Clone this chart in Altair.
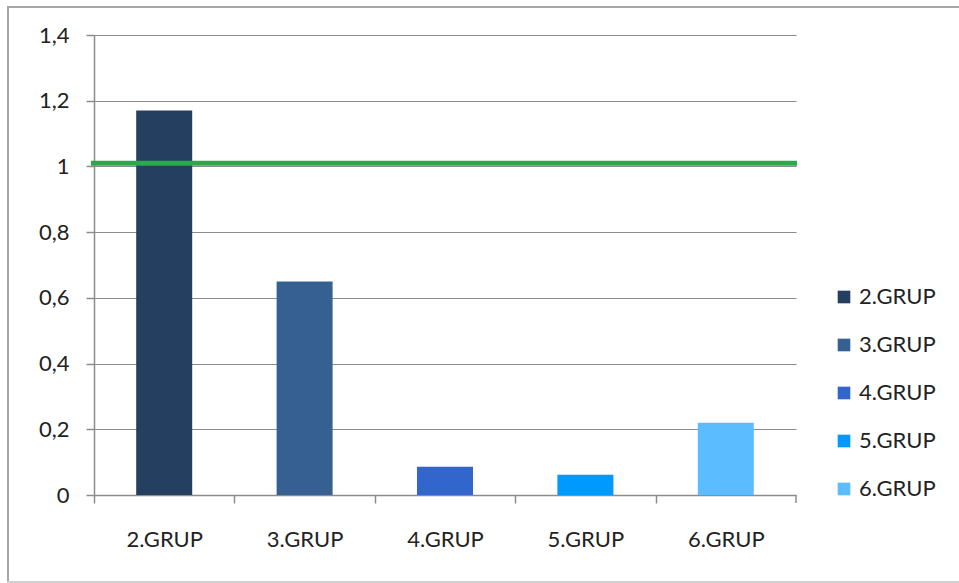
import altair as alt
import pandas as pd

# Group ratios and their bar colours
groups = ["2.GRUP", "3.GRUP", "4.GRUP", "5.GRUP", "6.GRUP"]
values = [1.17, 0.65, 0.086, 0.062, 0.22]
colors = ["#243F60", "#366092", "#3366CC", "#0099FF", "#5BBCFF"]

# Reference level drawn as a horizontal line
reference_level = [1.01]

df = pd.DataFrame({"group": groups, "value": values})
ref = pd.DataFrame({"level": reference_level})

FONT = "Lato"
FS = 22
TEXT = "#222222"
AXIS_GRAY = "#8C8C8C"
FRAME_GRAY = "#A6A6A6"
W, H = 702, 460
RIGHT_PAD = 163
STEP = W / len(groups)

bars = alt.Chart(df).mark_bar(size=56).encode(
    x=alt.X(
        "group:N",
        sort=groups,
        scale=alt.Scale(domain=groups, paddingInner=0, paddingOuter=0),
        title=None,
        axis=alt.Axis(
            tickOffset=-STEP / 2,
            labelOffset=STEP / 2,
            labelAngle=0,
            labelPadding=26,
            labelFontSize=FS,
            labelFont=FONT,
            labelColor=TEXT,
            ticks=True,
            tickSize=8,
            tickColor=AXIS_GRAY,
            domainColor=AXIS_GRAY,
            domainWidth=1.5,
            tickWidth=1.5,
            grid=False,
        ),
    ),
    y=alt.Y(
        "value:Q",
        title=None,
        scale=alt.Scale(domain=[0, 1.4], nice=False),
        axis=alt.Axis(
            values=[0, 0.2, 0.4, 0.6, 0.8, 1.0, 1.2, 1.4],
            labelExpr="replace(format(datum.value, '.1~f'), '.', ',')",
            labelFontSize=FS,
            labelFont=FONT,
            labelColor=TEXT,
            labelPadding=17,
            tickSize=8,
            tickColor=AXIS_GRAY,
            tickWidth=1.5,
            domainColor=AXIS_GRAY,
            domainWidth=1.5,
            grid=True,
            gridColor=AXIS_GRAY,
            gridWidth=1.2,
        ),
    ),
    color=alt.Color(
        "group:N",
        sort=groups,
        scale=alt.Scale(domain=groups, range=colors),
        legend=alt.Legend(
            title=None,
            orient="none",
            legendX=739,
            legendY=251,
            symbolType="square",
            symbolSize=160,
            symbolStrokeWidth=0,
            labelFontSize=FS,
            labelFont=FONT,
            labelColor=TEXT,
            rowPadding=26,
            labelOffset=4,
        ),
    ),
)

# Closing tick at the right end of the category axis
end_tick = alt.Chart(ref).mark_rule(color=AXIS_GRAY, strokeWidth=1.5).encode(
    x=alt.value(W),
    y=alt.value(H),
    y2=alt.value(H + 8),
)

line = alt.Chart(ref).mark_rule(color="#2AAA4A", strokeWidth=5).encode(
    y="level:Q",
    x=alt.value(-3),
    x2=alt.value(W + 1),
)

# Frame around the chart: thin filled strips on the top, left and bottom,
# running out to the right edge of the canvas
frame_top = alt.Chart(ref).mark_rect(color=FRAME_GRAY).encode(
    x=alt.value(-87), x2=alt.value(W + RIGHT_PAD), y=alt.value(-29), y2=alt.value(-27)
)
frame_left = alt.Chart(ref).mark_rect(color=FRAME_GRAY).encode(
    x=alt.value(-87), x2=alt.value(-85), y=alt.value(-29), y2=alt.value(548)
)
frame_bottom = alt.Chart(ref).mark_rect(color="#D0D0D0").encode(
    x=alt.value(-87), x2=alt.value(W + RIGHT_PAD), y=alt.value(546), y2=alt.value(548)
)

chart = (
    alt.layer(frame_top, frame_left, frame_bottom, bars, end_tick, line)
    .properties(
        width=W,
        height=H,
        padding={"left": 94, "top": 35, "right": RIGHT_PAD, "bottom": 88},
        autosize=alt.AutoSizeParams(type="none"),
        background="white",
    )
    .configure_view(stroke=None)
)

chart.save("out.html", embed_options={"renderer": "svg", "actions": False})
